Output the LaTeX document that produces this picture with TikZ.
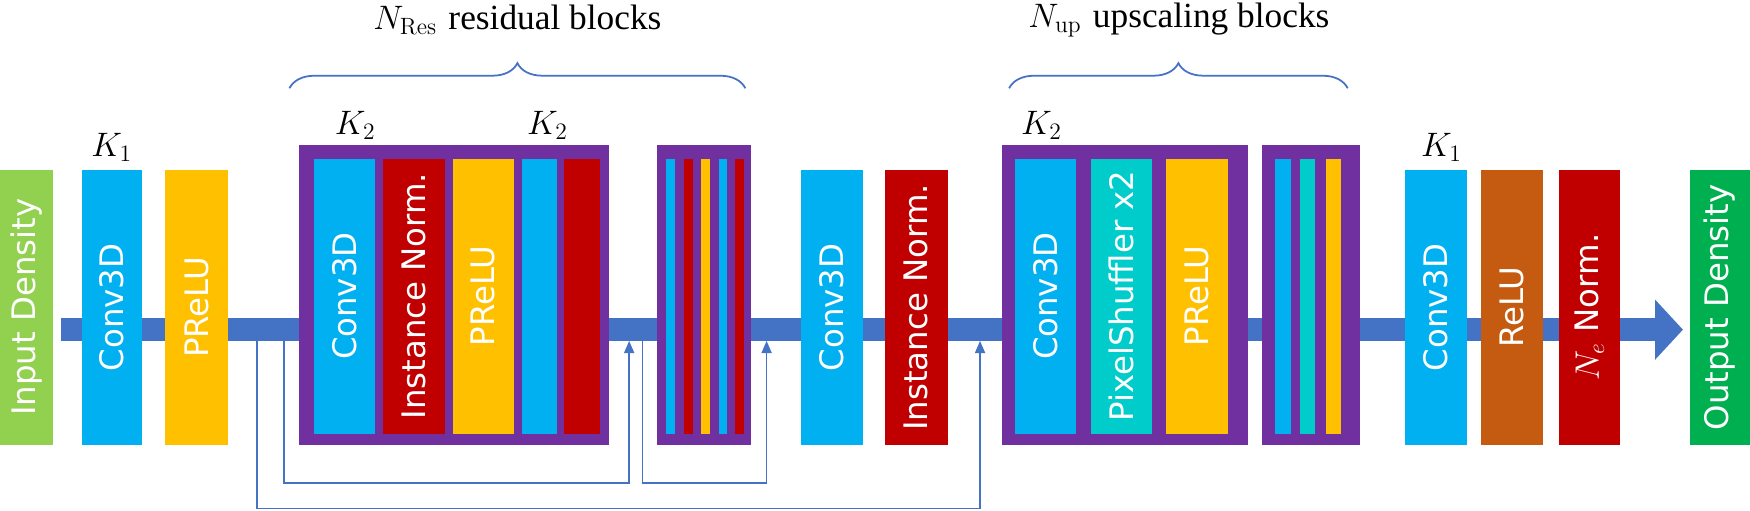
\documentclass[tikz,border=0pt]{standalone}
\usepackage[no-math]{fontspec}
\setmainfont{DejaVu Sans}
\usepackage{amsmath}
\usetikzlibrary{arrows.meta,decorations.pathreplacing}
\definecolor{cblue}{RGB}{0,176,240}
\definecolor{cred}{RGB}{192,0,0}
\definecolor{cyel}{RGB}{255,192,0}
\definecolor{cgreen}{RGB}{146,208,80}
\definecolor{cdgreen}{RGB}{0,176,80}
\definecolor{cteal}{RGB}{0,204,204}
\definecolor{corange}{RGB}{197,90,17}
\definecolor{cpurple}{RGB}{112,48,160}
\definecolor{cline}{RGB}{68,114,196}
\newcommand\lay[6]{% name, x1, x2, ytop, ybot, color
  \fill[#6] (#2,#4) rectangle (#3,#5);
  \coordinate (#1) at ({(#2+#3)/2},{(#4+#5)/2});}
\tikzset{
  lbl/.style={text=white,rotate=90,font=\fontsize{16.5}{16.5}\selectfont,inner sep=0pt},
  klab/.style={font=\fontsize{18}{18}\selectfont},
  outer/.style={draw=cpurple,fill=cpurple,line width=0.24cm},
  skip/.style={draw=cline,line width=0.9pt,-{Triangle[length=0.22cm,width=0.18cm]}},
  brace/.style={draw=cline,line width=0.9pt,decorate,decoration={brace,amplitude=0.45cm}}
}
\begin{document}
\begin{tikzpicture}[x=0.02cm,y=-0.02cm]
\useasboundingbox (0,0) rectangle (1566,457);
% main bar
\coordinate (bs) at (55,295);
\coordinate (be) at (1506,295);
\draw[cline,line width=0.4cm,-{Triangle[length=0.5cm,width=1.05cm]}] (bs) -- (be);
% skip connections
\coordinate (s1) at (230,305); \coordinate (e1) at (877,305);
\coordinate (s2) at (254,305); \coordinate (e2) at (563,305);
\coordinate (s3) at (575,305); \coordinate (e3) at (686,305);
\draw[skip] (s1) |- (877,455) -- (e1);
\draw[skip] (s2) |- (563,432) -- (e2);
\draw[skip] (s3) |- (686,432) -- (e3);
% left blocks
\lay{in}{0}{47}{152}{398}{cgreen}   \node[lbl] at (in) {Input Density};
\lay{c1}{73}{127}{152}{398}{cblue}  \node[lbl] at (c1) {Conv3D};
\lay{p1}{148}{204}{152}{398}{cyel}  \node[lbl] at (p1) {PReLU};
% residual block
\draw[outer] (274,136) rectangle (539,392);
\lay{rc}{281}{336}{142}{388}{cblue} \node[lbl] at (rc) {Conv3D};
\lay{ri}{343}{398}{142}{388}{cred}  \node[lbl] at (ri) {Instance Norm.};
\lay{rp}{405}{460}{142}{388}{cyel}  \node[lbl] at (rp) {PReLU};
\lay{rb}{467}{498}{142}{388}{cblue}
\lay{rr}{505}{537}{142}{388}{cred}
% small residual block
\draw[outer] (594,136) rectangle (666,392);
\lay{a1}{596}{604}{142}{388}{cblue}
\lay{a2}{612}{620}{142}{388}{cred}
\lay{a3}{627}{635}{142}{388}{cyel}
\lay{a4}{643}{651}{142}{388}{cblue}
\lay{a5}{658}{666}{142}{388}{cred}
% middle
\lay{c2}{717}{772}{152}{398}{cblue} \node[lbl] at (c2) {Conv3D};
\lay{i2}{792}{848}{152}{398}{cred}  \node[lbl] at (i2) {Instance Norm.};
% upscaling block
\draw[outer] (903,136) rectangle (1111,392);
\lay{uc}{908}{963}{142}{388}{cblue} \node[lbl] at (uc) {Conv3D};
\lay{us}{976}{1031}{142}{388}{cteal} \node[lbl] at (us) {PixelShuffler x2};
\lay{up}{1043}{1099}{142}{388}{cyel} \node[lbl] at (up) {PReLU};
% small up block
\draw[outer] (1135,136) rectangle (1211,392);
\lay{b1}{1141}{1155}{142}{388}{cblue}
\lay{b2}{1163}{1177}{142}{388}{cteal}
\lay{b3}{1187}{1200}{142}{388}{cyel}
% right
\lay{c3}{1257}{1313}{152}{398}{cblue} \node[lbl] at (c3) {Conv3D};
\lay{re}{1325}{1381}{152}{398}{corange} \node[lbl] at (re) {ReLU};
\lay{ne}{1395}{1450}{152}{398}{cred} \node[lbl] at (ne) {$N_e$ Norm.};
\lay{out}{1512}{1566}{152}{398}{cdgreen} \node[lbl] at (out) {Output Density};
% kernel labels
\node[klab] (k1) at (100,132) {$K_1$};
\node[klab] (k2) at (318,112) {$K_2$};
\node[klab] (k3) at (490,112) {$K_2$};
\node[klab] (k4) at (932,112) {$K_2$};
\node[klab] (k5) at (1290,132) {$K_1$};
% braces
\coordinate (br1a) at (259,79); \coordinate (br1b) at (667,79);
\coordinate (br2a) at (903,79); \coordinate (br2b) at (1206,79);
\draw[brace] (br1a) -- (br1b);
\draw[brace] (br2a) -- (br2b);
\node[klab] (t1) at (463,18) {$N_{\mathrm{Res}}$ \fontspec{Liberation Serif}residual blocks};
\node[klab] (t2) at (1055,18) {$N_{\mathrm{up}}$ \fontspec{Liberation Serif}upscaling blocks};
\end{tikzpicture}
\end{document}
